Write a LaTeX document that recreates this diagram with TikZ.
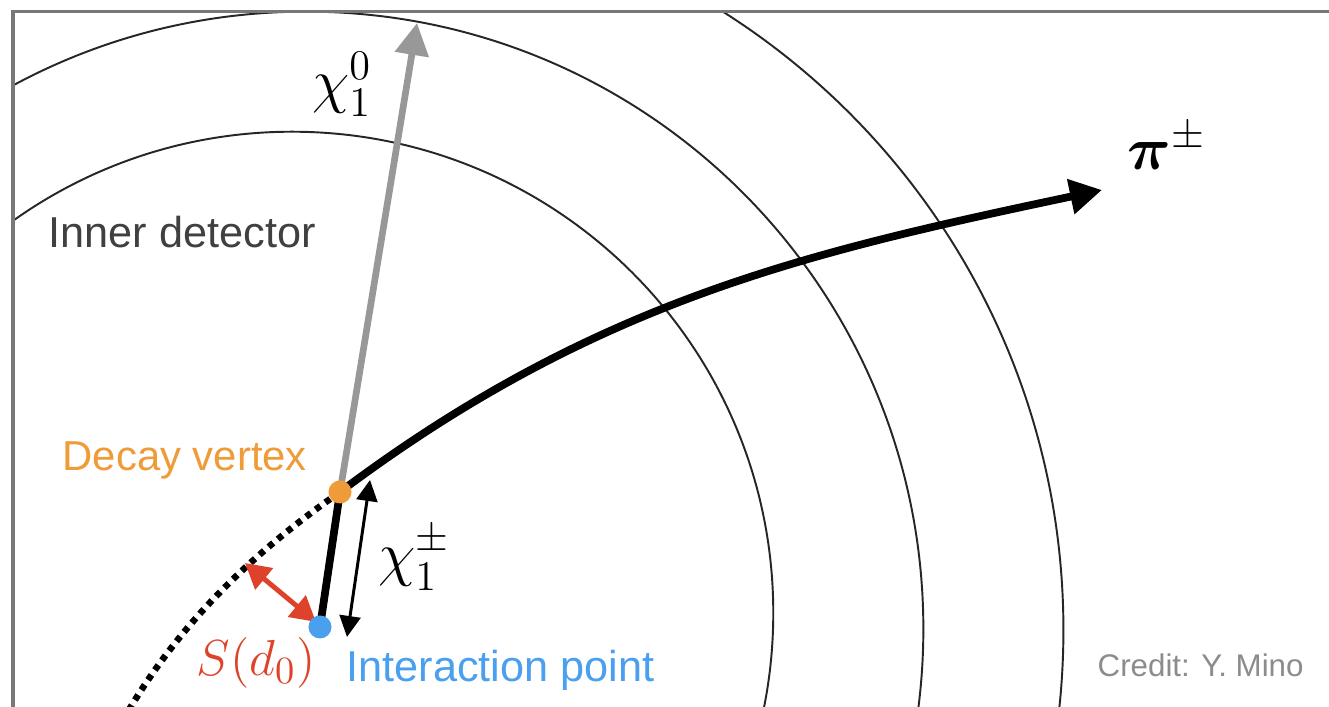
\documentclass[tikz,border=0pt]{standalone}
\usepackage{amsmath}
\usepackage[no-math]{fontspec}
\newfontfamily\labelfont{Liberation Sans}
\usetikzlibrary{arrows.meta}
\definecolor{DVorange}{RGB}{238,155,56}
\definecolor{IPblue}  {RGB}{74,160,238}
\definecolor{SDred}   {RGB}{222,66,42}
\definecolor{IDgray}  {RGB}{64,64,64}
\definecolor{CRgray}  {RGB}{140,140,140}
\definecolor{ARgray}  {RGB}{152,152,152}
\definecolor{FRgray}  {RGB}{120,120,120}

\begin{document}
\begin{tikzpicture}[x=0.01cm,y=-0.01cm,
  det/.style={line width=0.55pt, black!85},
  trk/.style={line width=2.2pt, black},
  dottrk/.style={line width=0.065cm, black, dash pattern=on 0.06cm off 0.06cm},
  txt/.style={inner sep=0pt, anchor=base west, font=\labelfont\fontsize{12.3}{14}\selectfont},
  mlbl/.style={inner sep=0pt, font=\fontsize{17.5}{20}\selectfont},
  vtx/.style={circle, inner sep=0pt, minimum size=0.23cm}]
\fill[white] (0,0) rectangle (1329,707);
\useasboundingbox (0,0) rectangle (1329,707);

\coordinate (dv) at (340,492);
\coordinate (ip) at (320,627);
\coordinate (chitop) at (417,23);
\coordinate (piontip) at (1102,190);
\coordinate (lenA) at (370,480);
\coordinate (lenB) at (347,637);
\coordinate (sdA) at (245,563);
\coordinate (sdB) at (316,622);

\begin{scope}
  \clip (13,12) rectangle (1329,707);
  \draw[det] (292,613) circle[radius=4.81cm];
  \draw[det] (306,629) circle[radius=6.17cm];
  \draw[det] (332,630) circle[radius=7.31cm];
  \draw[dottrk] (dv) .. controls (250,555) and (170,630) .. (112,740);
\end{scope}
\draw[FRgray, line width=0.03cm] (13,707) -- (13,12) -- (1329,12);

\draw[trk] (ip) -- (dv);
\draw[ARgray, line width=1.9pt, -{Triangle[length=0.32cm,width=0.33cm]}] (dv) -- (chitop);
\draw[trk, -{Triangle[length=0.32cm,width=0.34cm]}] (dv) .. controls (596,300) and (809,252) .. (piontip);
\draw[line width=0.85pt, {Triangle[length=0.21cm,width=0.21cm]}-{Triangle[length=0.21cm,width=0.21cm]}] (lenA) -- (lenB);
\draw[SDred, line width=1.4pt, {Triangle[length=0.25cm,width=0.27cm]}-{Triangle[length=0.25cm,width=0.27cm]}] (sdA) -- (sdB);

\node[vtx, fill=DVorange] (dvdot) at (dv) {};
\node[vtx, fill=IPblue] (ipdot) at (ip) {};

\node[txt, text=IDgray] (inner) at (48,248) {Inner detector};
\node[txt, text=DVorange, font=\labelfont\fontsize{11.9}{14}\selectfont] (dvlabel) at (62,471) {Decay vertex};
\node[txt, text=IPblue] (iplabel) at (346,682) {Interaction point};
\node[txt, text=CRgray, font=\labelfont\fontsize{8.9}{10}\selectfont] (credit) at (1097,677) {Credit: Y. Mino};

\node[mlbl] (chizero) at (342,84) {$\chi_1^0$};
\node[mlbl] (pion) at (1167,146) {$\boldsymbol{\pi}^{\pm}$};
\node[mlbl] (chipm) at (414,558) {$\chi_1^{\pm}$};
\node[mlbl, text=SDred, font=\fontsize{15.3}{18}\selectfont] (sdzero) at (256,663) {$S(d_0)$};
\end{tikzpicture}
\end{document}
